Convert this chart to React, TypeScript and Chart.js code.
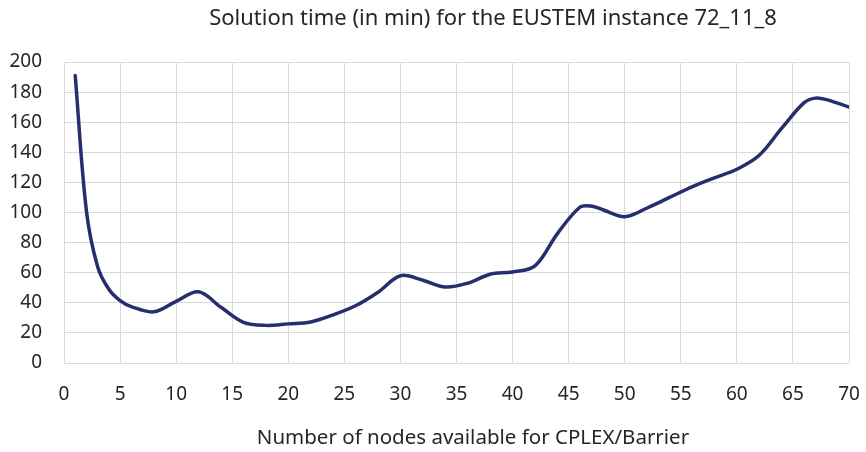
import React, { useEffect, useRef } from "react";
import { Chart, registerables } from "chart.js";

Chart.register(...registerables);

const TITLE = "Solution time (in min) for the EUSTEM instance 72_11_8";
const X_TITLE = "Number of nodes available for CPLEX/Barrier";

const nodes = [1, 2, 3, 4, 5, 6, 8, 10, 12, 14, 16, 18, 20, 22, 24, 26, 28, 30, 32, 34, 36, 38, 40, 42, 44, 46, 47, 48, 50, 52, 54, 56, 58, 60, 62, 64, 66, 67, 68, 70];
const minutes = [191, 101, 64, 49, 41.5, 37.5, 34, 41, 47.3, 37, 27, 25, 26, 27.3, 32, 38, 47, 58, 55, 50.5, 53, 59, 60.5, 64.5, 86, 103.5, 104.3, 102, 97.2, 103, 110, 117, 123, 128.7, 138, 156, 173, 176, 175, 170];

const FONT = "'Noto Sans', sans-serif";
const TEXT = "#262626";

const titlesPlugin = {
  id: "titlesPlugin",
  afterDraw(chart: any) {
    const ctx = chart.ctx;
    ctx.save();
    ctx.fillStyle = TEXT;
    ctx.textAlign = "center";
    ctx.textBaseline = "middle";
    ctx.font = `22px ${FONT}`;
    ctx.fillText(TITLE, 493, 19);
    ctx.font = `20.5px ${FONT}`;
    ctx.fillText(X_TITLE, 473, 438);
    ctx.restore();
  },
};

export default function App() {
  const ref = useRef<HTMLCanvasElement | null>(null);

  useEffect(() => {
    if (!ref.current) return;
    const data = nodes.map((x, i) => ({ x, y: minutes[i] }));
    const chart = new Chart(ref.current, {
      type: "line",
      data: {
        datasets: [
          {
            data,
            borderColor: "#262E6E",
            borderWidth: 3.5,
            pointRadius: 0,
            fill: false,
            tension: 0.35,
            borderCapStyle: "round",
            borderJoinStyle: "round",
          },
        ],
      },
      plugins: [titlesPlugin],
      options: {
        animation: false,
        responsive: false,
        layout: { padding: { left: 0, right: 17, top: 62, bottom: 0 } },
        plugins: {
          legend: { display: false },
          tooltip: { enabled: false },
          title: { display: false },
        },
        scales: {
          x: {
            type: "linear",
            min: 0,
            max: 70,
            afterFit: (s: any) => {
              s.height = 89;
              s.paddingLeft = 0;
              s.paddingRight = 0;
            },
            ticks: {
              stepSize: 5,
              color: TEXT,
              font: { family: FONT, size: 19 },
              padding: 20,
              maxRotation: 0,
            },
            grid: { color: "#D9D9D9", lineWidth: 1, drawTicks: false },
            border: { display: false },
          },
          y: {
            min: 0,
            max: 200,
            afterFit: (s: any) => {
              s.width = 64;
            },
            ticks: {
              stepSize: 20,
              color: TEXT,
              font: { family: FONT, size: 19 },
              padding: 22,
            },
            grid: { color: "#D9D9D9", lineWidth: 1, drawTicks: false },
            border: { display: false },
          },
        },
      },
    });
    return () => chart.destroy();
  }, []);

  return (
    <div style={{ position: "absolute", left: 0, top: 0, width: 866, height: 452, background: "#fff" }}>
      <canvas ref={ref} width={866} height={452} />
    </div>
  );
}
